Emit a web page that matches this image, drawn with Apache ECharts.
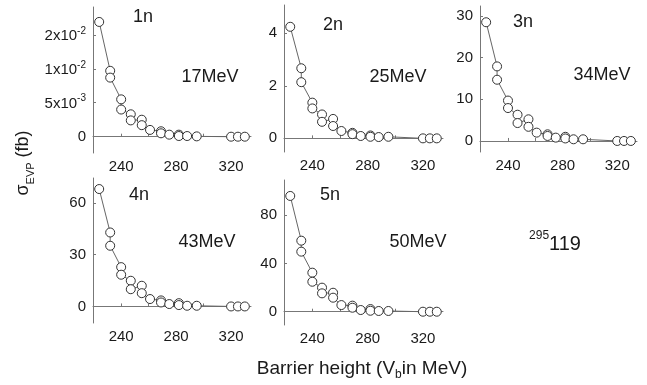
<!DOCTYPE html>
<html>
<head>
<meta charset="utf-8">
<script src="https://cdn.jsdelivr.net/npm/echarts@6/dist/echarts.min.js"></script>
<style>
  html, body { margin: 0; background: #fff; }
  #chart { width: 647px; height: 385px; }
</style>
</head>
<body>
<div id="chart"></div>
<script>
// barrier height V_b (MeV), shared by all five panels
const barrierHeights = [224, 232, 232, 240, 240, 247, 247, 255, 255, 261, 269, 269, 275, 282, 282, 288, 295, 320, 325, 330];

// sigma_EVP (fb) per evaporation channel
const sigma1n = [0.0169, 0.0097, 0.0087, 0.0055, 0.0040, 0.0033, 0.0024, 0.0025, 0.0017, 0.0010, 0.0008, 0.0005, 0.0003, 0.0003, 0.0001, 0.0001, 0.00005, 0, 0, 0];
const sigma2n = [4.25, 2.67, 2.14, 1.36, 1.14, 0.91, 0.63, 0.74, 0.47, 0.28, 0.21, 0.16, 0.09, 0.11, 0.06, 0.05, 0.06, 0, 0, 0];
const sigma3n = [28.5, 17.9, 14.7, 9.7, 7.9, 6.3, 4.3, 5.2, 3.4, 2.0, 1.6, 1.2, 0.8, 1.0, 0.6, 0.4, 0.4, 0, 0, 0];
const sigma4n = [68.1, 42.9, 35.2, 22.8, 18.4, 14.9, 10.0, 12.0, 7.7, 4.3, 3.5, 2.3, 1.4, 1.9, 0.8, 0.4, 0.4, 0, 0, 0];
const sigma5n = [95.8, 58.8, 49.7, 32.3, 24.8, 19.9, 15.2, 15.7, 11.6, 5.5, 5.0, 3.3, 1.4, 2.2, 0.8, 0.6, 0.6, 0, 0, 0];

const channelNames = ["1n", "2n", "3n", "4n", "5n"];
const energies = ["17MeV", "25MeV", "34MeV", "43MeV", "50MeV"];

// tick values and labels
const xTicks = [240, 260, 280, 300, 320];
const xLabels = [240, 280, 320];
const yTicks1n = [0, 0.005, 0.01, 0.015];
const yLabels1n = ["0", "{m|5x10}{e|-3}", "{m|1x10}{e|-2}", "{m|2x10}{e|-2}"];
const yTicks2n = [0, 2, 4];
const yTicks3n = [0, 10, 20, 30];
const yTicks4n = [0, 30, 60];
const yTicks5n = [0, 40, 80];

const FONT = "Arial, 'Liberation Sans', sans-serif";
const axisColor = "#777";
const textColor = "#1a1a1a";

const panels = [
  { data: sigma1n, ticks: yTicks1n, labels: yLabels1n, min: -0.0024, max: 0.0191, rect: [93, 7, 158, 146], tag: [143, 17], mev: [210, 77] },
  { data: sigma2n, ticks: yTicks2n, min: -0.52, max: 5.08, rect: [284, 5, 159, 147], tag: [333, 25], mev: [398, 77] },
  { data: sigma3n, ticks: yTicks3n, min: -2.65, max: 32.4, rect: [480, 6, 157, 146], tag: [523, 22], mev: [602, 75] },
  { data: sigma4n, ticks: yTicks4n, min: -9.6, max: 74.5, rect: [93, 178, 158, 145], tag: [139, 195], mev: [207, 242] },
  { data: sigma5n, ticks: yTicks5n, min: -11, max: 109, rect: [284, 180, 159, 145], tag: [330, 195], mev: [418, 242] }
];

const grids = [], xAxes = [], yAxes = [], series = [], graphics = [];

panels.forEach((p, i) => {
  grids.push({ left: p.rect[0], top: p.rect[1], width: p.rect[2], height: p.rect[3] });
  xAxes.push({
    type: "value", gridIndex: i, min: 219.5, max: 334.5,
    splitLine: { show: false },
    axisLine: { lineStyle: { color: axisColor, width: 1 } },
    axisTick: { inside: true, length: 3, customValues: xTicks, lineStyle: { color: axisColor } },
    axisLabel: { customValues: xLabels, color: textColor, fontSize: 15, fontFamily: FONT, margin: 6 }
  });
  const lbl = { customValues: p.ticks, color: textColor, fontSize: 15, fontFamily: FONT, margin: 7 };
  if (p.labels) {
    lbl.formatter = (v) => p.labels[p.ticks.findIndex((t) => Math.abs(t - v) < 1e-9)] || "";
    lbl.rich = {
      m: { fontSize: 15, fontFamily: FONT, color: textColor, lineHeight: 18, verticalAlign: "bottom" },
      e: { fontSize: 10, fontFamily: FONT, color: textColor, lineHeight: 10, verticalAlign: "top" }
    };
  }
  yAxes.push({
    type: "value", gridIndex: i, min: p.min, max: p.max,
    splitLine: { show: false },
    axisLine: { show: true, lineStyle: { color: axisColor, width: 1 } },
    axisTick: { show: true, inside: true, length: 3, customValues: p.ticks, lineStyle: { color: axisColor } },
    axisLabel: lbl
  });
  series.push({
    type: "line", xAxisIndex: i, yAxisIndex: i,
    data: barrierHeights.map((x, k) => [x, p.data[k]]),
    symbol: "circle", symbolSize: 9,
    itemStyle: { color: "#fff", borderColor: "#333", borderWidth: 1 },
    lineStyle: { color: "#666", width: 1 },
    z: 3
  });
  graphics.push({
    type: "text", x: p.tag[0], y: p.tag[1],
    style: { text: channelNames[i], font: "18px " + FONT, fill: textColor, align: "center", verticalAlign: "middle" }
  });
  graphics.push({
    type: "text", x: p.mev[0], y: p.mev[1],
    style: { text: energies[i], font: "18px " + FONT, fill: textColor, align: "center", verticalAlign: "middle" }
  });
});

// nucleus label, axis titles
graphics.push({
  type: "text", x: 555, y: 242,
  style: {
    text: "{s|295}{b|119}", align: "center", verticalAlign: "middle",
    rich: {
      s: { fontSize: 12, fontFamily: FONT, fill: textColor, lineHeight: 10, verticalAlign: "top" },
      b: { fontSize: 20, fontFamily: FONT, fill: textColor, lineHeight: 24, verticalAlign: "bottom" }
    }
  }
});
graphics.push({
  type: "text", x: 362, y: 370,
  style: {
    text: "{a|Barrier height (V}{s|b}{a|in MeV)}", align: "center", verticalAlign: "middle",
    rich: {
      a: { fontSize: 19, fontFamily: FONT, fill: textColor, lineHeight: 22, verticalAlign: "top" },
      s: { fontSize: 12, fontFamily: FONT, fill: textColor, lineHeight: 10, verticalAlign: "bottom" }
    }
  }
});
graphics.push({
  type: "text", x: 25, y: 163, rotation: Math.PI / 2,
  style: {
    text: "{a|σ}{s|EVP}{a| (fb)}", align: "center", verticalAlign: "middle",
    rich: {
      a: { fontSize: 18, fontFamily: FONT, fill: textColor, lineHeight: 22, verticalAlign: "top" },
      s: { fontSize: 11, fontFamily: FONT, fill: textColor, lineHeight: 10, verticalAlign: "bottom" }
    }
  }
});

const chart = echarts.init(document.getElementById("chart"));
chart.setOption({
  animation: false,
  backgroundColor: "#fff",
  grid: grids,
  xAxis: xAxes,
  yAxis: yAxes,
  series: series,
  graphic: graphics
});
</script>
</body>
</html>
